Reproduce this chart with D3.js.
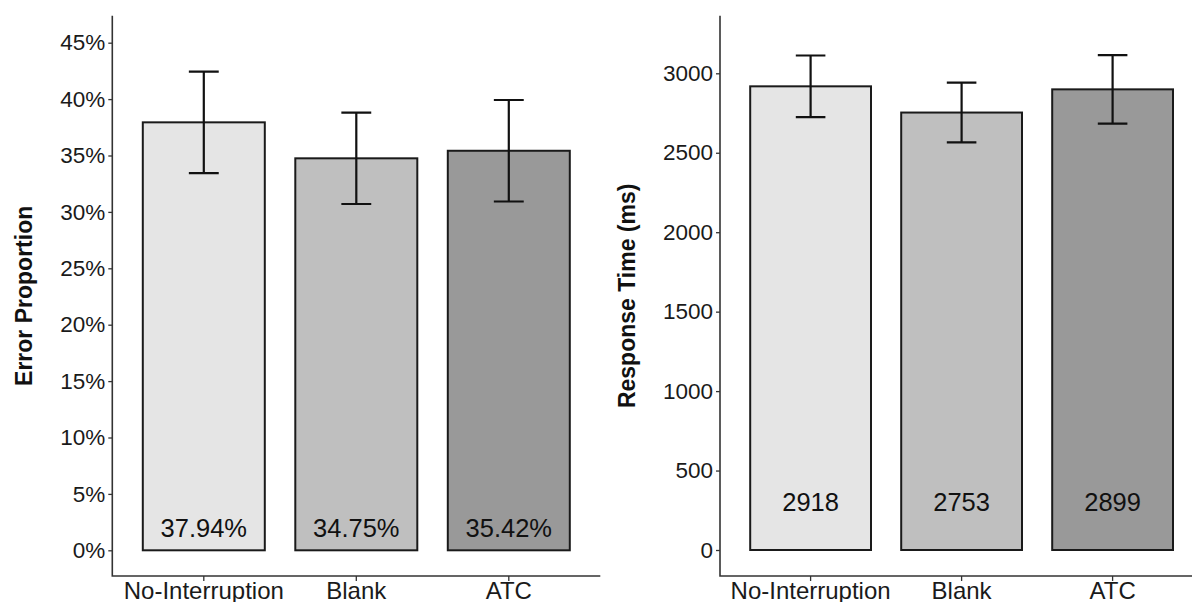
<!DOCTYPE html>
<html><head><meta charset="utf-8">
<script src="https://cdn.jsdelivr.net/npm/d3@7"></script>
<style>
html,body{margin:0;padding:0;background:#fff;}
svg{display:block;font-family:"Liberation Sans",Arial,Helvetica,sans-serif;}
</style></head>
<body>
<svg id="chart" width="1192" height="602"></svg>
<script>
// ---- data ----
const categories = ["No-Interruption", "Blank", "ATC"];
const errorMeans = [0.3794, 0.3475, 0.3542];
const errorHalfCI = [0.0450, 0.0405, 0.0450];
const errorLabels = ["37.94%", "34.75%", "35.42%"];
const rtMeans = [2918, 2753, 2899];
const rtHalfCI = [194, 188, 216];
const rtLabels = ["2918", "2753", "2899"];
const errorTicks = [0, 0.05, 0.10, 0.15, 0.20, 0.25, 0.30, 0.35, 0.40, 0.45];
const errorTickLabels = ["0%", "5%", "10%", "15%", "20%", "25%", "30%", "35%", "40%", "45%"];
const rtTicks = [0, 500, 1000, 1500, 2000, 2500, 3000];
const rtTickLabels = ["0", "500", "1000", "1500", "2000", "2500", "3000"];

const svg = d3.select("#chart");
const fill = d3.scaleOrdinal().domain(categories).range(["#e5e5e5", "#bfbfbf", "#999999"]);

function panel(opt) {
  const g = svg.append("g");
  const x = d3.scaleBand().domain(categories)
    .range([opt.x0, opt.x0 + 3.2 * opt.step]).paddingInner(0.2).paddingOuter(0.2);
  const y = d3.scaleLinear().domain(opt.domain).range(opt.range);
  const data = categories.map((c, i) => ({c, m: opt.means[i], e: opt.half[i], lab: opt.labels[i]}));

  // bars
  g.selectAll("rect.bar").data(data).join("rect")
    .attr("x", d => x(d.c)).attr("width", x.bandwidth())
    .attr("y", d => y(d.m)).attr("height", d => y(0) - y(d.m))
    .attr("fill", d => fill(d.c)).attr("stroke", "#1a1a1a").attr("stroke-width", 2);

  // error bars
  const cx = d => x(d.c) + x.bandwidth() / 2;
  const capW = x.bandwidth() * 0.245;
  g.selectAll("path.err").data(data).join("path")
    .attr("d", d => `M${cx(d)-capW/2},${y(d.m+d.e)}H${cx(d)+capW/2}M${cx(d)},${y(d.m+d.e)}V${y(d.m-d.e)}M${cx(d)-capW/2},${y(d.m-d.e)}H${cx(d)+capW/2}`)
    .attr("fill", "none").attr("stroke", "#111").attr("stroke-width", 2.2);

  // value labels
  const fs = 25.5;
  g.selectAll("text.val").data(data).join("text")
    .attr("x", cx).attr("y", y(opt.labelY) + 0.358 * fs)
    .attr("text-anchor", "middle").attr("font-size", fs).attr("fill", "#111")
    .text(d => d.lab);

  // y axis
  const ya = d3.axisLeft(y).tickValues(opt.ticks).tickFormat((d, i) => opt.tickLabels[i])
    .tickSize(4).tickPadding(3);
  const yg = g.append("g").attr("transform", `translate(${opt.x0},0)`).call(ya);
  yg.select(".domain").remove();
  yg.selectAll(".tick line").attr("stroke", "#333").attr("stroke-width", 1.3);
  yg.selectAll(".tick text").attr("font-size", 22.5).attr("fill", "#1a1a1a")
    .attr("font-family", "'Liberation Sans',Arial,sans-serif");

  // x axis
  const xa = d3.axisBottom(x).tickSize(5).tickPadding(0);
  const xg = g.append("g").attr("transform", `translate(0,${opt.axisBottom})`).call(xa);
  xg.select(".domain").remove();
  xg.selectAll(".tick line").attr("stroke", "#333").attr("stroke-width", 1.3);
  xg.selectAll(".tick text").attr("font-size", 24).attr("fill", "#1a1a1a")
    .attr("dy", null).attr("y", 22.5)
    .attr("font-family", "'Liberation Sans',Arial,sans-serif");

  // axis lines
  g.append("path")
    .attr("d", `M${opt.x0},${opt.axisTop}V${opt.axisBottom}H${opt.x0 + 3.2 * opt.step}`)
    .attr("fill", "none").attr("stroke", "#333").attr("stroke-width", 1.6);

  // title
  const ty = (opt.axisTop + opt.axisBottom) / 2;
  g.append("text").attr("transform", `translate(${opt.titleX},${ty}) rotate(-90)`)
    .attr("text-anchor", "middle").attr("font-size", 23).attr("font-weight", "bold")
    .attr("fill", "#111").text(opt.title);
}

panel({
  x0: 112.3, step: 152.5, domain: [0, 0.45], range: [550.3, 42.7],
  axisTop: 15.7, axisBottom: 576,
  means: errorMeans, half: errorHalfCI, labels: errorLabels, labelY: 0.02,
  ticks: errorTicks, tickLabels: errorTickLabels,
  title: "Error Proportion", titleX: 32
});
panel({
  x0: 720, step: 151, domain: [0, 3000], range: [550, 73.3],
  axisTop: 15.7, axisBottom: 576,
  means: rtMeans, half: rtHalfCI, labels: rtLabels, labelY: 300,
  ticks: rtTicks, tickLabels: rtTickLabels,
  title: "Response Time (ms)", titleX: 635
});
</script>
</body></html>
